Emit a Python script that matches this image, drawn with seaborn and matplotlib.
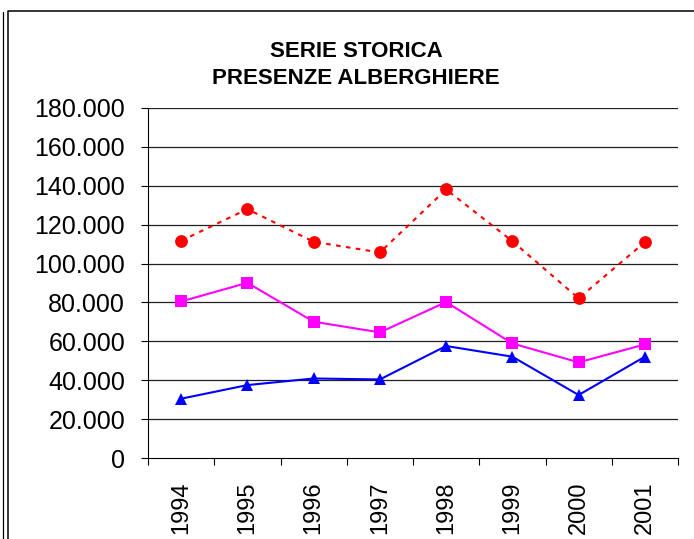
import pandas as pd
import matplotlib.pyplot as plt
import seaborn as sns
from matplotlib.lines import Line2D
from matplotlib.ticker import FixedLocator, FuncFormatter

# dati
anni = ["1994", "1995", "1996", "1997", "1998", "1999", "2000", "2001"]
serie_rossa = [111700, 128000, 111200, 105700, 138100, 111500, 82100, 111000]
serie_magenta = [80500, 90100, 70100, 64600, 80200, 58900, 49200, 58400]
serie_blu = [30500, 37500, 40900, 40400, 57600, 52100, 32400, 52100]
y_ticks = [0, 20000, 40000, 60000, 80000, 100000, 120000, 140000, 160000, 180000]

sns.set_style("white")
plt.rcParams["font.family"] = ["Liberation Sans", "DejaVu Sans"]
plt.rcParams["text.color"] = "black"
plt.rcParams["xtick.color"] = "black"
plt.rcParams["ytick.color"] = "black"

W, H = 694, 539
fig = plt.figure(figsize=(W / 100, H / 100), dpi=100)
ax = fig.add_axes([148 / W, 81 / H, 530 / W, 350 / H])

pos = list(range(len(anni)))
stili = [
    (serie_rossa, "#FF0000", "o", (0, (2.2, 2.6)), 9.2),
    (serie_magenta, "#FF00FF", "s", "-", 8.8),
    (serie_blu, "#0000FF", "^", "-", 9.2),
]
for valori, colore, marker, ls, ms in stili:
    df = pd.DataFrame({"pos": pos, "valore": valori})
    sns.lineplot(data=df, x="pos", y="valore", ax=ax, color=colore,
                 marker=marker, markersize=ms, linestyle=ls, linewidth=1.5,
                 markeredgecolor=colore, markeredgewidth=0, zorder=3)

ax.set_xlim(-0.5, len(anni) - 0.5)
ax.set_ylim(0, 180000)
ax.set_xlabel("")
ax.set_ylabel("")

# griglia orizzontale
for v in y_ticks[1:]:
    ax.axhline(v, color="#202020", linewidth=0.9, zorder=1)

ax.yaxis.set_major_locator(FixedLocator(y_ticks))
ax.yaxis.set_major_formatter(FuncFormatter(lambda v, p: f"{v:,.0f}".replace(",", ".")))
ax.xaxis.set_major_locator(FixedLocator([p - 0.5 for p in range(len(anni) + 1)]))
ax.xaxis.set_major_formatter(FuncFormatter(lambda v, p: ""))
ax.xaxis.set_minor_locator(FixedLocator(pos))
ax.set_xticklabels(anni, minor=True, rotation=90, fontsize=17, color="black")

ax.tick_params(axis="y", which="major", direction="out", length=5, width=0.8,
               color="black", labelcolor="black", labelsize=18, pad=11.5, left=True)
ax.tick_params(axis="x", which="major", direction="out", length=5, width=0.8,
               color="black", bottom=True)
ax.tick_params(axis="x", which="minor", length=0, pad=17, labelcolor="black")

for s in ["top", "right"]:
    ax.spines[s].set_visible(False)
for s in ["left", "bottom"]:
    ax.spines[s].set_color("black")
    ax.spines[s].set_linewidth(0.8)

# titolo
fig.text(356 / W, 1 - 57 / H, "SERIE STORICA", ha="center", va="baseline",
         fontsize=16, fontweight="bold", color="black")
fig.text(356 / W, 1 - 84 / H, "PRESENZE ALBERGHIERE", ha="center", va="baseline",
         fontsize=16, fontweight="bold", color="black")

# cornice
fig.add_artist(Line2D([3 / W, 3 / W], [0, 1 - 12 / H], transform=fig.transFigure,
                      color="black", linewidth=0.9))
fig.add_artist(Line2D([7.5 / W, 7.5 / W, 1], [0, 1 - 11 / H, 1 - 11 / H],
                      transform=fig.transFigure, color="black", linewidth=1.1))

fig.savefig("out.png", dpi=100)
